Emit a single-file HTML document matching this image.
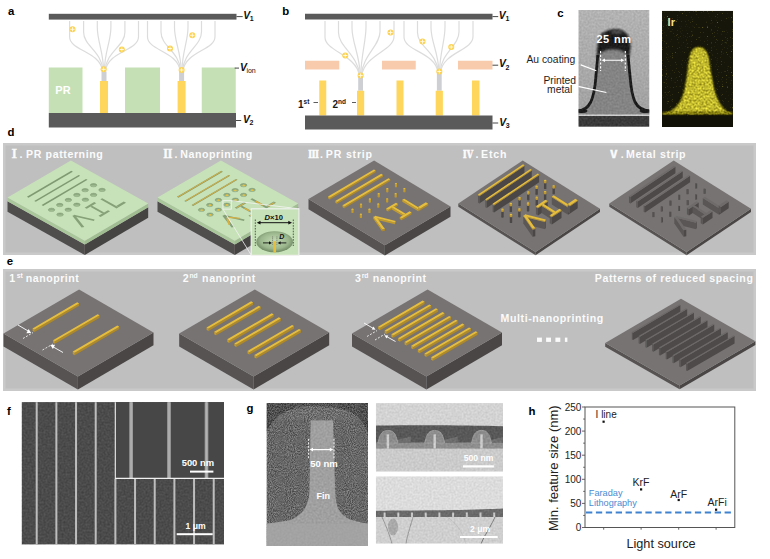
<!DOCTYPE html>
<html><head><meta charset="utf-8"><style>
html,body{margin:0;padding:0;background:#fff;}
svg{display:block;font-family:'Liberation Sans', sans-serif;}
</style></head><body>
<svg width="770" height="559" viewBox="0 0 770 559">
<defs>
<filter id="grain" x="0" y="0" width="100%" height="100%" color-interpolation-filters="sRGB">
  <feTurbulence type="fractalNoise" baseFrequency="0.9" numOctaves="1" seed="4" result="t"/>
  <feColorMatrix in="t" type="matrix" values="1 0 0 0 0  1 0 0 0 0  1 0 0 0 0  0 0 0 0 1" result="g"/>
  <feComposite in="SourceGraphic" in2="g" operator="arithmetic" k1="0" k2="1" k3="0.45" k4="-0.225"/>
</filter>
<filter id="grain2" x="0" y="0" width="100%" height="100%" color-interpolation-filters="sRGB">
  <feTurbulence type="fractalNoise" baseFrequency="0.95" numOctaves="2" seed="9" result="t"/>
  <feColorMatrix in="t" type="matrix" values="1 0 0 0 0  1 0 0 0 0  1 0 0 0 0  0 0 0 0 1" result="g"/>
  <feComposite in="SourceGraphic" in2="g" operator="arithmetic" k1="0" k2="1" k3="0.5" k4="-0.25"/>
</filter>
<filter id="grain3" x="0" y="0" width="100%" height="100%" color-interpolation-filters="sRGB">
  <feTurbulence type="fractalNoise" baseFrequency="0.45" numOctaves="2" seed="11" result="t"/>
  <feColorMatrix in="t" type="matrix" values="1 0 0 0 0  1 0 0 0 0  0 0 0 0 0  0 0 0 0 1" result="g"/>
  <feComposite in="SourceGraphic" in2="g" operator="arithmetic" k1="0" k2="1" k3="0.7" k4="-0.35"/>
</filter>
<filter id="grainL" x="0" y="0" width="100%" height="100%" color-interpolation-filters="sRGB">
  <feTurbulence type="fractalNoise" baseFrequency="0.5" numOctaves="2" seed="8" result="t"/>
  <feColorMatrix in="t" type="matrix" values="1 0 0 0 0  1 0 0 0 0  1 0 0 0 0  0 0 0 0 1" result="g"/>
  <feComposite in="SourceGraphic" in2="g" operator="arithmetic" k1="0" k2="1" k3="0.14" k4="-0.07"/>
</filter>
<filter id="grain4" x="0" y="0" width="100%" height="100%" color-interpolation-filters="sRGB">
  <feTurbulence type="fractalNoise" baseFrequency="0.7" numOctaves="1" seed="5" result="t"/>
  <feColorMatrix in="t" type="matrix" values="1 0 0 0 0  1 0 0 0 0  0 0 0 0 0  0 0 0 0 1" result="g"/>
  <feComposite in="SourceGraphic" in2="g" operator="arithmetic" k1="0" k2="1" k3="0.12" k4="-0.06"/>
</filter>
<filter id="bellF" x="-10%" y="-10%" width="120%" height="120%" color-interpolation-filters="sRGB">
  <feGaussianBlur in="SourceGraphic" stdDeviation="1.1" result="b"/>
  <feTurbulence type="fractalNoise" baseFrequency="0.5" numOctaves="2" seed="11" result="t"/>
  <feColorMatrix in="t" type="matrix" values="1 0 0 0 0  1 0 0 0 0  0.5 0 0 0 0  0 0 0 0 1" result="g"/>
  <feComposite in="b" in2="g" operator="arithmetic" k1="0" k2="1" k3="0.65" k4="-0.325" result="c"/>
  <feComposite in="c" in2="b" operator="in"/>
</filter>
<filter id="speck" x="0" y="0" width="100%" height="100%" color-interpolation-filters="sRGB">
  <feTurbulence type="fractalNoise" baseFrequency="0.8" numOctaves="1" seed="21" result="t"/>
  <feColorMatrix in="t" type="matrix" values="0 0 0 0 0.42  0 0 0 0 0.40  0 0 0 0 0.15  5 0 0 0 -3.2" result="sp"/>
  <feComposite in="sp" in2="SourceGraphic" operator="atop"/>
</filter>
<filter id="soft" x="-20%" y="-20%" width="140%" height="140%"><feGaussianBlur stdDeviation="0.6"/></filter>
<filter id="soft2" x="-20%" y="-20%" width="140%" height="140%"><feGaussianBlur stdDeviation="1.2"/></filter>
<linearGradient id="temBg" x1="0" y1="0" x2="0" y2="1"><stop offset="0" stop-color="#b3b3b3"/><stop offset="1" stop-color="#9f9f9f"/></linearGradient>
</defs>
<rect x="48.80" y="13.80" width="187.70" height="5.80" fill="#5a5a5a" />
<path d="M69.6,21 L69.6,36.8 C69.6,50.8 99.9,51.0 102.6,71" fill="none" stroke="#dcdcdc" stroke-width="1.2"/>
<path d="M83.6,21 L83.6,32.0 C83.6,46.0 101.6,51.0 103.2,71" fill="none" stroke="#dcdcdc" stroke-width="1.2"/>
<path d="M97.3,21 L97.3,27.3 C97.3,41.3 103.2,51.0 103.7,71" fill="none" stroke="#dcdcdc" stroke-width="1.2"/>
<path d="M110.9,21 L110.9,27.4 C110.9,41.4 104.8,51.0 104.3,71" fill="none" stroke="#dcdcdc" stroke-width="1.2"/>
<path d="M124.9,21 L124.9,32.2 C124.9,46.2 106.5,51.0 104.8,71" fill="none" stroke="#dcdcdc" stroke-width="1.2"/>
<path d="M138.5,21 L138.5,36.8 C138.5,50.8 108.1,51.0 105.4,71" fill="none" stroke="#dcdcdc" stroke-width="1.2"/>
<path d="M147.5,21 L147.5,36.7 C147.5,50.7 177.5,51.0 180.2,71" fill="none" stroke="#dcdcdc" stroke-width="1.2"/>
<path d="M161,21 L161,32.1 C161,46.1 179.1,51.0 180.8,71" fill="none" stroke="#dcdcdc" stroke-width="1.2"/>
<path d="M174.5,21 L174.5,27.4 C174.5,41.4 180.7,51.0 181.3,71" fill="none" stroke="#dcdcdc" stroke-width="1.2"/>
<path d="M188,21 L188,27.2 C188,41.2 182.4,51.0 181.9,71" fill="none" stroke="#dcdcdc" stroke-width="1.2"/>
<path d="M201.5,21 L201.5,31.8 C201.5,45.8 184.0,51.0 182.4,71" fill="none" stroke="#dcdcdc" stroke-width="1.2"/>
<path d="M215,21 L215,36.5 C215,50.5 185.6,51.0 182.9,71" fill="none" stroke="#dcdcdc" stroke-width="1.2"/>
<rect x="48.80" y="67.50" width="33.70" height="45.50" fill="#c6e0b5" />
<rect x="125.00" y="67.50" width="35.00" height="45.50" fill="#c6e0b5" />
<rect x="201.75" y="67.50" width="34.00" height="45.50" fill="#c6e0b5" />
<text x="55.3" y="94.0" font-size="11" font-weight="bold" fill="#fff" text-anchor="start"  >PR</text>
<rect x="101.50" y="71.50" width="5.00" height="10.10" fill="#cdcfd3" />
<rect x="100.00" y="81.00" width="8.00" height="32.00" fill="#ffd65c" />
<rect x="179.10" y="71.50" width="5.00" height="10.10" fill="#cdcfd3" />
<rect x="177.60" y="81.00" width="8.00" height="32.00" fill="#ffd65c" />
<rect x="48.80" y="113.00" width="187.20" height="14.50" fill="#5a5a5a" />
<g><circle cx="72.5" cy="29.3" r="3" fill="#fdd252"/><path d="M70.4,29.3H74.6M72.5,27.2V31.400000000000002" stroke="#fffbe8" stroke-width="0.9"/></g>
<g><circle cx="121.8" cy="49.5" r="3" fill="#fdd252"/><path d="M119.7,49.5H123.89999999999999M121.8,47.4V51.6" stroke="#fffbe8" stroke-width="0.9"/></g>
<g><circle cx="103.6" cy="69.3" r="3" fill="#fdd252"/><path d="M101.5,69.3H105.69999999999999M103.6,67.2V71.39999999999999" stroke="#fffbe8" stroke-width="0.9"/></g>
<g><circle cx="170" cy="48.5" r="3" fill="#fdd252"/><path d="M167.9,48.5H172.1M170,46.4V50.6" stroke="#fffbe8" stroke-width="0.9"/></g>
<g><circle cx="192.3" cy="35.3" r="3" fill="#fdd252"/><path d="M190.20000000000002,35.3H194.4M192.3,33.199999999999996V37.4" stroke="#fffbe8" stroke-width="0.9"/></g>
<g><circle cx="181.6" cy="70" r="3" fill="#fdd252"/><path d="M179.5,70H183.7M181.6,67.9V72.1" stroke="#fffbe8" stroke-width="0.9"/></g>
<line x1="236.5" y1="16.6" x2="242.7" y2="16.6" stroke="#333" stroke-width="0.9"/>
<line x1="234.7" y1="68.1" x2="239.0" y2="68.1" stroke="#333" stroke-width="0.9"/>
<line x1="236.0" y1="120.5" x2="241.2" y2="120.5" stroke="#333" stroke-width="0.9"/>
<text x="243.27" y="18.9" font-size="10.4" font-style="italic" font-weight="bold" fill="#111">V<tspan font-size="7.0" font-style="normal" font-weight="bold" dx="-0.4" dy="2.2">1</tspan></text>
<text x="240.07" y="71.0" font-size="10.4" font-style="italic" font-weight="bold" fill="#111">V<tspan font-size="7.0" font-style="normal" font-weight="normal" dx="-0.6" dy="2.2">ion</tspan></text>
<text x="242.97" y="123.2" font-size="10.4" font-style="italic" font-weight="bold" fill="#111">V<tspan font-size="7.0" font-style="normal" font-weight="bold" dx="-0.4" dy="2.2">2</tspan></text>
<rect x="305.00" y="13.75" width="187.50" height="5.75" fill="#5a5a5a" />
<path d="M325,21 L325,37.2 C325,51.2 356.3,55.0 359.2,75" fill="none" stroke="#dcdcdc" stroke-width="1.2"/>
<path d="M338.5,21 L338.5,32.6 C338.5,46.6 357.9,55.0 359.7,75" fill="none" stroke="#dcdcdc" stroke-width="1.2"/>
<path d="M352,21 L352,27.9 C352,41.9 359.6,55.0 360.3,75" fill="none" stroke="#dcdcdc" stroke-width="1.2"/>
<path d="M366,21 L366,26.9 C366,40.9 361.2,55.0 360.8,75" fill="none" stroke="#dcdcdc" stroke-width="1.2"/>
<path d="M380,21 L380,31.7 C380,45.7 362.9,55.0 361.4,75" fill="none" stroke="#dcdcdc" stroke-width="1.2"/>
<path d="M394,21 L394,36.5 C394,50.5 364.6,55.0 361.9,75" fill="none" stroke="#dcdcdc" stroke-width="1.2"/>
<path d="M404,21 L404,37.1 C404,51.1 435.1,52.0 437.9,72" fill="none" stroke="#dcdcdc" stroke-width="1.2"/>
<path d="M417.5,21 L417.5,32.5 C417.5,46.5 436.7,52.0 438.4,72" fill="none" stroke="#dcdcdc" stroke-width="1.2"/>
<path d="M431,21 L431,27.8 C431,41.8 438.3,52.0 439.0,72" fill="none" stroke="#dcdcdc" stroke-width="1.2"/>
<path d="M445,21 L445,27.0 C445,41.0 440.0,52.0 439.5,72" fill="none" stroke="#dcdcdc" stroke-width="1.2"/>
<path d="M459,21 L459,31.8 C459,45.8 441.7,52.0 440.1,72" fill="none" stroke="#dcdcdc" stroke-width="1.2"/>
<path d="M473,21 L473,36.6 C473,50.6 443.3,52.0 440.6,72" fill="none" stroke="#dcdcdc" stroke-width="1.2"/>
<rect x="305.00" y="60.75" width="34.25" height="8.75" fill="#f8cbad" />
<rect x="382.00" y="60.75" width="33.75" height="8.75" fill="#f8cbad" />
<rect x="458.00" y="60.75" width="34.50" height="8.75" fill="#f8cbad" />
<rect x="319.25" y="80.50" width="7.00" height="35.00" fill="#ffd65c" />
<rect x="396.50" y="80.50" width="7.00" height="35.00" fill="#ffd65c" />
<rect x="472.00" y="80.50" width="7.50" height="35.00" fill="#ffd65c" />
<rect x="358.20" y="75.00" width="4.80" height="15.75" fill="#cdcfd3" />
<rect x="357.00" y="90.75" width="7.20" height="24.75" fill="#ffd65c" />
<rect x="436.90" y="72.00" width="4.80" height="18.75" fill="#cdcfd3" />
<rect x="435.70" y="90.75" width="7.20" height="24.75" fill="#ffd65c" />
<rect x="305.00" y="115.50" width="187.50" height="14.00" fill="#5a5a5a" />
<g><circle cx="345.25" cy="55.5" r="3" fill="#fdd252"/><path d="M343.15,55.5H347.35M345.25,53.4V57.6" stroke="#fffbe8" stroke-width="0.9"/></g>
<g><circle cx="360.6" cy="75.5" r="3" fill="#fdd252"/><path d="M358.5,75.5H362.70000000000005M360.6,73.4V77.6" stroke="#fffbe8" stroke-width="0.9"/></g>
<g><circle cx="390.5" cy="32.5" r="3" fill="#fdd252"/><path d="M388.4,32.5H392.6M390.5,30.4V34.6" stroke="#fffbe8" stroke-width="0.9"/></g>
<g><circle cx="422.5" cy="41.6" r="3" fill="#fdd252"/><path d="M420.4,41.6H424.6M422.5,39.5V43.7" stroke="#fffbe8" stroke-width="0.9"/></g>
<g><circle cx="451.25" cy="47" r="3" fill="#fdd252"/><path d="M449.15,47H453.35M451.25,44.9V49.1" stroke="#fffbe8" stroke-width="0.9"/></g>
<g><circle cx="439.3" cy="71.5" r="3" fill="#fdd252"/><path d="M437.2,71.5H441.40000000000003M439.3,69.4V73.6" stroke="#fffbe8" stroke-width="0.9"/></g>
<line x1="492.5" y1="16.6" x2="498.2" y2="16.6" stroke="#333" stroke-width="0.9"/>
<line x1="492.5" y1="65.2" x2="498.2" y2="65.2" stroke="#333" stroke-width="0.9"/>
<line x1="492.5" y1="123.0" x2="498.2" y2="123.0" stroke="#333" stroke-width="0.9"/>
<text x="498.87" y="19.0" font-size="10.4" font-style="italic" font-weight="bold" fill="#111">V<tspan font-size="7.0" font-style="normal" font-weight="bold" dx="-0.4" dy="2.2">1</tspan></text>
<text x="498.97" y="67.3" font-size="10.4" font-style="italic" font-weight="bold" fill="#111">V<tspan font-size="7.0" font-style="normal" font-weight="bold" dx="-0.4" dy="2.2">2</tspan></text>
<text x="499.17" y="125.6" font-size="10.4" font-style="italic" font-weight="bold" fill="#111">V<tspan font-size="7.0" font-style="normal" font-weight="bold" dx="-0.4" dy="2.2">3</tspan></text>
<text x="298" y="107.5" font-size="10" font-weight="bold" fill="#1a1a1a">1<tspan font-size="6.5" dy="-3.5">st</tspan></text>
<line x1="313.5" y1="102.5" x2="318" y2="102.5" stroke="#333" stroke-width="0.8"/>
<text x="332.5" y="107.5" font-size="10" font-weight="bold" fill="#1a1a1a">2<tspan font-size="6.5" dy="-3.5">nd</tspan></text>
<line x1="352" y1="102.5" x2="356" y2="102.5" stroke="#333" stroke-width="0.8"/>
<text x="526.4" y="63.4" font-size="10.3" font-weight="normal" fill="#1e1e1e" text-anchor="start"  letter-spacing="0.03">Au coating</text>
<text x="559.7" y="83.5" font-size="10.3" font-weight="normal" fill="#1e1e1e" text-anchor="middle"  >Printed</text>
<text x="559.7" y="92.5" font-size="10.3" font-weight="normal" fill="#1e1e1e" text-anchor="middle"  >metal</text>
<defs><linearGradient id="holeG" x1="0" y1="0" x2="0" y2="1"><stop offset="0" stop-color="#7f9a73"/><stop offset="0.55" stop-color="#98b48a"/><stop offset="1" stop-color="#aecb9f"/></linearGradient></defs>
<rect x="3" y="143" width="753" height="112" fill="#c9c9c9"/>
<rect x="5.5" y="145.5" width="748" height="107" fill="#bfbfbf"/>
<polygon points="7.50,201.20 84.80,244.40 84.80,255.00 7.50,211.80" fill="#504d4d"/>
<polygon points="84.80,244.40 148.20,207.20 148.20,217.80 84.80,255.00" fill="#464343"/>
<polygon points="7.50,197.60 84.80,240.80 84.80,244.40 7.50,201.20" fill="#a9c79a"/>
<polygon points="84.80,240.80 148.20,203.60 148.20,207.20 84.80,244.40" fill="#9fbd90"/>
<polygon points="7.50,197.60 70.90,160.40 148.20,203.60 84.80,240.80" fill="#c7e2b8"/>
<g transform="matrix(0.63400 -0.37200 0.77300 0.43200 7.500 197.600)">
<rect x="16.00" y="12.00" width="70.00" height="2.00" fill="#7f9a72"/>
<rect x="16.00" y="21.50" width="70.00" height="2.00" fill="#7f9a72"/>
<rect x="16.00" y="31.00" width="70.00" height="2.00" fill="#7f9a72"/>
</g>
<ellipse cx="51.52" cy="209.85" rx="3.3" ry="1.7" fill="url(#holeG)" stroke="#7e9a72" stroke-width="0.5"/>
<ellipse cx="59.76" cy="205.02" rx="3.3" ry="1.7" fill="url(#holeG)" stroke="#7e9a72" stroke-width="0.5"/>
<ellipse cx="68.32" cy="199.99" rx="3.3" ry="1.7" fill="url(#holeG)" stroke="#7e9a72" stroke-width="0.5"/>
<ellipse cx="76.88" cy="194.97" rx="3.3" ry="1.7" fill="url(#holeG)" stroke="#7e9a72" stroke-width="0.5"/>
<ellipse cx="85.12" cy="190.14" rx="3.3" ry="1.7" fill="url(#holeG)" stroke="#7e9a72" stroke-width="0.5"/>
<ellipse cx="93.55" cy="185.19" rx="3.3" ry="1.7" fill="url(#holeG)" stroke="#7e9a72" stroke-width="0.5"/>
<ellipse cx="60.02" cy="214.60" rx="3.3" ry="1.7" fill="url(#holeG)" stroke="#7e9a72" stroke-width="0.5"/>
<ellipse cx="68.26" cy="209.77" rx="3.3" ry="1.7" fill="url(#holeG)" stroke="#7e9a72" stroke-width="0.5"/>
<ellipse cx="76.82" cy="204.75" rx="3.3" ry="1.7" fill="url(#holeG)" stroke="#7e9a72" stroke-width="0.5"/>
<ellipse cx="85.38" cy="199.72" rx="3.3" ry="1.7" fill="url(#holeG)" stroke="#7e9a72" stroke-width="0.5"/>
<ellipse cx="93.62" cy="194.89" rx="3.3" ry="1.7" fill="url(#holeG)" stroke="#7e9a72" stroke-width="0.5"/>
<ellipse cx="102.05" cy="189.94" rx="3.3" ry="1.7" fill="url(#holeG)" stroke="#7e9a72" stroke-width="0.5"/>
<g transform="matrix(0.63400 -0.37200 0.77300 0.43200 7.500 197.600)">
<polygon points="69.00,63.50 72.00,63.50 72.00,84.50 69.00,84.50" fill="#86a078"/>
<polygon points="72.00,81.50 84.00,81.50 84.00,84.50 72.00,84.50" fill="#86a078"/>
<polygon points="45.50,62.50 60.50,62.50 60.50,65.20 45.50,65.20" fill="#86a078"/>
<polygon points="51.00,65.20 54.00,65.20 54.00,80.80 51.00,80.80" fill="#86a078"/>
<polygon points="45.00,80.80 60.00,80.80 60.00,83.50 45.00,83.50" fill="#86a078"/>
<polygon points="24.94,63.37 15.84,82.87 18.56,84.13 27.66,64.63" fill="#86a078"/>
<polygon points="24.96,64.67 34.36,83.67 37.04,82.33 27.64,63.33" fill="#86a078"/>
</g>
<polygon points="157.50,201.20 234.80,244.40 234.80,255.00 157.50,211.80" fill="#504d4d"/>
<polygon points="234.80,244.40 298.20,207.20 298.20,217.80 234.80,255.00" fill="#464343"/>
<polygon points="157.50,197.60 234.80,240.80 234.80,244.40 157.50,201.20" fill="#a9c79a"/>
<polygon points="234.80,240.80 298.20,203.60 298.20,207.20 234.80,244.40" fill="#9fbd90"/>
<polygon points="157.50,197.60 220.90,160.40 298.20,203.60 234.80,240.80" fill="#c7e2b8"/>
<g transform="matrix(0.63400 -0.37200 0.77300 0.43200 157.500 197.600)">
<rect x="16.00" y="12.00" width="70.00" height="2.00" fill="#7f9a72"/>
<rect x="16.50" y="12.20" width="69.00" height="1.20" fill="#d9b040"/>
<rect x="16.00" y="21.50" width="70.00" height="2.00" fill="#7f9a72"/>
<rect x="16.50" y="21.70" width="69.00" height="1.20" fill="#d9b040"/>
<rect x="16.00" y="31.00" width="70.00" height="2.00" fill="#7f9a72"/>
<rect x="16.50" y="31.20" width="69.00" height="1.20" fill="#d9b040"/>
</g>
<ellipse cx="201.52" cy="209.85" rx="3.3" ry="1.7" fill="url(#holeG)" stroke="#7e9a72" stroke-width="0.5"/>
<ellipse cx="201.72" cy="210.05" rx="1.3" ry="0.9" fill="#e8c040"/>
<ellipse cx="209.76" cy="205.02" rx="3.3" ry="1.7" fill="url(#holeG)" stroke="#7e9a72" stroke-width="0.5"/>
<ellipse cx="209.96" cy="205.22" rx="1.3" ry="0.9" fill="#e8c040"/>
<ellipse cx="218.32" cy="199.99" rx="3.3" ry="1.7" fill="url(#holeG)" stroke="#7e9a72" stroke-width="0.5"/>
<ellipse cx="218.52" cy="200.19" rx="1.3" ry="0.9" fill="#e8c040"/>
<ellipse cx="226.88" cy="194.97" rx="3.3" ry="1.7" fill="url(#holeG)" stroke="#7e9a72" stroke-width="0.5"/>
<ellipse cx="227.08" cy="195.17" rx="1.3" ry="0.9" fill="#e8c040"/>
<ellipse cx="235.12" cy="190.14" rx="3.3" ry="1.7" fill="url(#holeG)" stroke="#7e9a72" stroke-width="0.5"/>
<ellipse cx="235.32" cy="190.34" rx="1.3" ry="0.9" fill="#e8c040"/>
<ellipse cx="243.55" cy="185.19" rx="3.3" ry="1.7" fill="url(#holeG)" stroke="#7e9a72" stroke-width="0.5"/>
<ellipse cx="243.75" cy="185.39" rx="1.3" ry="0.9" fill="#e8c040"/>
<ellipse cx="210.02" cy="214.60" rx="3.3" ry="1.7" fill="url(#holeG)" stroke="#7e9a72" stroke-width="0.5"/>
<ellipse cx="210.22" cy="214.80" rx="1.3" ry="0.9" fill="#e8c040"/>
<ellipse cx="218.26" cy="209.77" rx="3.3" ry="1.7" fill="url(#holeG)" stroke="#7e9a72" stroke-width="0.5"/>
<ellipse cx="218.46" cy="209.97" rx="1.3" ry="0.9" fill="#e8c040"/>
<ellipse cx="226.82" cy="204.75" rx="3.3" ry="1.7" fill="url(#holeG)" stroke="#7e9a72" stroke-width="0.5"/>
<ellipse cx="227.02" cy="204.95" rx="1.3" ry="0.9" fill="#e8c040"/>
<ellipse cx="235.38" cy="199.72" rx="3.3" ry="1.7" fill="url(#holeG)" stroke="#7e9a72" stroke-width="0.5"/>
<ellipse cx="235.58" cy="199.92" rx="1.3" ry="0.9" fill="#e8c040"/>
<ellipse cx="243.62" cy="194.89" rx="3.3" ry="1.7" fill="url(#holeG)" stroke="#7e9a72" stroke-width="0.5"/>
<ellipse cx="243.82" cy="195.09" rx="1.3" ry="0.9" fill="#e8c040"/>
<ellipse cx="252.05" cy="189.94" rx="3.3" ry="1.7" fill="url(#holeG)" stroke="#7e9a72" stroke-width="0.5"/>
<ellipse cx="252.25" cy="190.14" rx="1.3" ry="0.9" fill="#e8c040"/>
<g transform="matrix(0.63400 -0.37200 0.77300 0.43200 157.500 197.600)">
<polygon points="69.00,63.50 72.00,63.50 72.00,84.50 69.00,84.50" fill="#86a078"/>
<polygon points="69.30,69.27 71.70,69.27 71.70,78.72 69.30,78.72" fill="#d9b040"/>
<polygon points="72.00,81.50 84.00,81.50 84.00,84.50 72.00,84.50" fill="#86a078"/>
<polygon points="73.20,82.32 82.80,82.32 82.80,83.67 73.20,83.67" fill="#d9b040"/>
<polygon points="45.50,62.50 60.50,62.50 60.50,65.20 45.50,65.20" fill="#86a078"/>
<polygon points="47.00,63.24 59.00,63.24 59.00,64.46 47.00,64.46" fill="#d9b040"/>
<polygon points="51.00,65.20 54.00,65.20 54.00,80.80 51.00,80.80" fill="#86a078"/>
<polygon points="51.30,69.49 53.70,69.49 53.70,76.51 51.30,76.51" fill="#d9b040"/>
<polygon points="45.00,80.80 60.00,80.80 60.00,83.50 45.00,83.50" fill="#86a078"/>
<polygon points="46.50,81.54 58.50,81.54 58.50,82.76 46.50,82.76" fill="#d9b040"/>
<polygon points="24.94,63.37 15.84,82.87 18.56,84.13 27.66,64.63" fill="#86a078"/>
<polygon points="24.30,69.08 17.02,77.85 19.20,78.42 26.48,69.65" fill="#d9b040"/>
<polygon points="24.96,64.67 34.36,83.67 37.04,82.33 27.64,63.33" fill="#86a078"/>
<polygon points="26.16,69.52 33.68,78.07 35.84,77.48 28.32,68.93" fill="#d9b040"/>
</g>
<polygon points="308.50,199.10 384.90,245.20 384.90,255.40 308.50,209.30" fill="#575353"/>
<polygon points="384.90,245.20 450.50,206.50 450.50,216.70 384.90,255.40" fill="#4a4646"/>
<polygon points="308.50,199.10 374.10,160.40 450.50,206.50 384.90,245.20" fill="#777373"/>
<ellipse cx="396.00" cy="186.69" rx="1.10" ry="0.60" fill="#c29b2c"/>
<rect x="394.90" y="183.49" width="2.20" height="3.20" fill="#c29b2c"/>
<ellipse cx="396.00" cy="183.49" rx="1.10" ry="0.60" fill="#e6be3c"/>
<ellipse cx="404.40" cy="191.76" rx="1.10" ry="0.60" fill="#c29b2c"/>
<rect x="403.30" y="188.56" width="2.20" height="3.20" fill="#c29b2c"/>
<ellipse cx="404.40" cy="188.56" rx="1.10" ry="0.60" fill="#e6be3c"/>
<ellipse cx="387.27" cy="191.83" rx="1.10" ry="0.60" fill="#c29b2c"/>
<rect x="386.17" y="188.63" width="2.20" height="3.20" fill="#c29b2c"/>
<ellipse cx="387.27" cy="188.63" rx="1.10" ry="0.60" fill="#e6be3c"/>
<ellipse cx="395.68" cy="196.90" rx="1.10" ry="0.60" fill="#c29b2c"/>
<rect x="394.58" y="193.70" width="2.20" height="3.20" fill="#c29b2c"/>
<ellipse cx="395.68" cy="193.70" rx="1.10" ry="0.60" fill="#e6be3c"/>
<ellipse cx="378.74" cy="196.86" rx="1.10" ry="0.60" fill="#c29b2c"/>
<rect x="377.64" y="193.66" width="2.20" height="3.20" fill="#c29b2c"/>
<ellipse cx="378.74" cy="193.66" rx="1.10" ry="0.60" fill="#e6be3c"/>
<polygon points="375.76,172.36 329.84,199.45 329.84,197.65 375.76,170.56" fill="#b08a26"/>
<polygon points="329.84,199.45 328.01,198.35 328.01,196.55 329.84,197.65" fill="#c29b2c"/>
<polygon points="328.01,196.55 373.93,169.46 375.76,170.56 329.84,197.65" fill="#e6be3c"/>
<ellipse cx="387.15" cy="201.94" rx="1.10" ry="0.60" fill="#c29b2c"/>
<rect x="386.05" y="198.74" width="2.20" height="3.20" fill="#c29b2c"/>
<ellipse cx="387.15" cy="198.74" rx="1.10" ry="0.60" fill="#e6be3c"/>
<ellipse cx="369.89" cy="202.09" rx="1.10" ry="0.60" fill="#c29b2c"/>
<rect x="368.79" y="198.89" width="2.20" height="3.20" fill="#c29b2c"/>
<ellipse cx="369.89" cy="198.89" rx="1.10" ry="0.60" fill="#e6be3c"/>
<polygon points="420.29,210.19 418.32,211.35 418.32,209.55 420.29,208.39" fill="#b08a26"/>
<polygon points="418.32,211.35 402.28,201.67 402.28,199.87 418.32,209.55" fill="#c29b2c"/>
<polygon points="402.28,199.87 404.25,198.71 420.29,208.39 418.32,209.55" fill="#e6be3c"/>
<polygon points="428.16,205.55 420.29,210.19 420.29,208.39 428.16,203.75" fill="#b08a26"/>
<polygon points="420.29,210.19 418.00,208.81 418.00,207.01 420.29,208.39" fill="#c29b2c"/>
<polygon points="418.00,207.01 425.87,202.36 428.16,203.75 420.29,208.39" fill="#e6be3c"/>
<polygon points="383.02,176.74 337.10,203.83 337.10,202.03 383.02,174.94" fill="#b08a26"/>
<polygon points="337.10,203.83 335.27,202.73 335.27,200.93 337.10,202.03" fill="#c29b2c"/>
<polygon points="335.27,200.93 381.19,173.84 383.02,174.94 337.10,202.03" fill="#e6be3c"/>
<ellipse cx="378.29" cy="207.16" rx="1.10" ry="0.60" fill="#c29b2c"/>
<rect x="377.19" y="203.96" width="2.20" height="3.20" fill="#c29b2c"/>
<ellipse cx="378.29" cy="203.96" rx="1.10" ry="0.60" fill="#e6be3c"/>
<polygon points="398.00,205.74 388.16,211.55 388.16,209.75 398.00,203.94" fill="#b08a26"/>
<polygon points="388.16,211.55 386.10,210.30 386.10,208.50 388.16,209.75" fill="#c29b2c"/>
<polygon points="386.10,208.50 395.94,202.70 398.00,203.94 388.16,209.75" fill="#e6be3c"/>
<ellipse cx="361.03" cy="207.31" rx="1.10" ry="0.60" fill="#c29b2c"/>
<rect x="359.93" y="204.11" width="2.20" height="3.20" fill="#c29b2c"/>
<ellipse cx="361.03" cy="204.11" rx="1.10" ry="0.60" fill="#e6be3c"/>
<polygon points="390.28,181.12 344.36,208.21 344.36,206.41 390.28,179.32" fill="#b08a26"/>
<polygon points="344.36,208.21 342.53,207.11 342.53,205.31 344.36,206.41" fill="#c29b2c"/>
<polygon points="342.53,205.31 388.45,178.22 390.28,179.32 344.36,206.41" fill="#e6be3c"/>
<polygon points="405.66,215.45 403.69,216.61 403.69,214.81 405.66,213.65" fill="#b08a26"/>
<polygon points="403.69,216.61 391.77,209.42 391.77,207.62 403.69,214.81" fill="#c29b2c"/>
<polygon points="391.77,207.62 393.74,206.46 405.66,213.65 403.69,214.81" fill="#e6be3c"/>
<ellipse cx="369.44" cy="212.38" rx="1.10" ry="0.60" fill="#c29b2c"/>
<rect x="368.34" y="209.18" width="2.20" height="3.20" fill="#c29b2c"/>
<ellipse cx="369.44" cy="209.18" rx="1.10" ry="0.60" fill="#e6be3c"/>
<ellipse cx="352.50" cy="212.34" rx="1.10" ry="0.60" fill="#c29b2c"/>
<rect x="351.40" y="209.14" width="2.20" height="3.20" fill="#c29b2c"/>
<ellipse cx="352.50" cy="209.14" rx="1.10" ry="0.60" fill="#e6be3c"/>
<polygon points="411.65,214.37 401.81,220.18 401.81,218.38 411.65,212.57" fill="#b08a26"/>
<polygon points="401.81,220.18 399.75,218.93 399.75,217.13 401.81,218.38" fill="#c29b2c"/>
<polygon points="399.75,217.13 409.59,211.33 411.65,212.57 401.81,218.38" fill="#e6be3c"/>
<ellipse cx="360.91" cy="217.41" rx="1.10" ry="0.60" fill="#c29b2c"/>
<rect x="359.81" y="214.22" width="2.20" height="3.20" fill="#c29b2c"/>
<ellipse cx="360.91" cy="214.22" rx="1.10" ry="0.60" fill="#e6be3c"/>
<polygon points="374.28,219.25 394.96,224.37 394.96,222.57 374.28,217.45" fill="#c29b2c"/>
<polygon points="394.96,224.37 395.70,222.72 395.70,220.92 394.96,222.57" fill="#b08a26"/>
<polygon points="374.28,217.45 394.96,222.57 395.70,220.92 375.02,215.80" fill="#e6be3c"/>
<polygon points="373.27,218.66 382.20,231.17 382.20,229.37 373.27,216.86" fill="#c29b2c"/>
<polygon points="382.20,231.17 384.95,230.70 384.95,228.90 382.20,229.37" fill="#b08a26"/>
<polygon points="373.27,216.86 382.20,229.37 384.95,228.90 376.03,216.39" fill="#e6be3c"/>
<polygon points="458.30,203.60 535.60,252.00 535.60,255.20 458.30,206.80" fill="#575353"/>
<polygon points="535.60,252.00 600.00,208.80 600.00,212.00 535.60,255.20" fill="#4a4646"/>
<polygon points="458.30,203.60 522.70,160.40 600.00,208.80 535.60,252.00" fill="#777373"/>
<ellipse cx="545.18" cy="188.43" rx="1.20" ry="0.60" fill="#4b4747"/>
<rect x="543.98" y="182.63" width="2.40" height="5.80" fill="#4b4747"/>
<ellipse cx="545.18" cy="182.63" rx="1.20" ry="0.60" fill="#6a6666"/>
<ellipse cx="545.18" cy="182.63" rx="1.20" ry="0.60" fill="#c29b2c"/>
<rect x="543.98" y="180.43" width="2.40" height="2.20" fill="#c29b2c"/>
<ellipse cx="545.18" cy="180.43" rx="1.20" ry="0.60" fill="#e6be3c"/>
<ellipse cx="553.69" cy="193.75" rx="1.20" ry="0.60" fill="#4b4747"/>
<rect x="552.49" y="187.95" width="2.40" height="5.80" fill="#4b4747"/>
<ellipse cx="553.69" cy="187.95" rx="1.20" ry="0.60" fill="#6a6666"/>
<ellipse cx="553.69" cy="187.95" rx="1.20" ry="0.60" fill="#c29b2c"/>
<rect x="552.49" y="185.75" width="2.40" height="2.20" fill="#c29b2c"/>
<ellipse cx="553.69" cy="185.75" rx="1.20" ry="0.60" fill="#e6be3c"/>
<ellipse cx="536.62" cy="194.17" rx="1.20" ry="0.60" fill="#4b4747"/>
<rect x="535.42" y="188.37" width="2.40" height="5.80" fill="#4b4747"/>
<ellipse cx="536.62" cy="188.37" rx="1.20" ry="0.60" fill="#6a6666"/>
<ellipse cx="536.62" cy="188.37" rx="1.20" ry="0.60" fill="#c29b2c"/>
<rect x="535.42" y="186.17" width="2.40" height="2.20" fill="#c29b2c"/>
<ellipse cx="536.62" cy="186.17" rx="1.20" ry="0.60" fill="#e6be3c"/>
<ellipse cx="545.12" cy="199.50" rx="1.20" ry="0.60" fill="#4b4747"/>
<rect x="543.92" y="193.70" width="2.40" height="5.80" fill="#4b4747"/>
<ellipse cx="545.12" cy="193.70" rx="1.20" ry="0.60" fill="#6a6666"/>
<ellipse cx="545.12" cy="193.70" rx="1.20" ry="0.60" fill="#c29b2c"/>
<rect x="543.92" y="191.50" width="2.40" height="2.20" fill="#c29b2c"/>
<ellipse cx="545.12" cy="191.50" rx="1.20" ry="0.60" fill="#e6be3c"/>
<ellipse cx="528.25" cy="199.79" rx="1.20" ry="0.60" fill="#4b4747"/>
<rect x="527.05" y="193.99" width="2.40" height="5.80" fill="#4b4747"/>
<ellipse cx="528.25" cy="193.99" rx="1.20" ry="0.60" fill="#6a6666"/>
<ellipse cx="528.25" cy="193.99" rx="1.20" ry="0.60" fill="#c29b2c"/>
<rect x="527.05" y="191.79" width="2.40" height="2.20" fill="#c29b2c"/>
<ellipse cx="528.25" cy="191.79" rx="1.20" ry="0.60" fill="#e6be3c"/>
<polygon points="524.43,173.18 479.35,203.42 479.35,196.22 524.43,165.98" fill="#4b4747"/>
<polygon points="479.35,203.42 477.96,202.54 477.96,195.34 479.35,196.22" fill="#5b5757"/>
<polygon points="477.96,195.34 523.04,165.10 524.43,165.98 479.35,196.22" fill="#6a6666"/>
<polygon points="524.43,165.98 479.35,196.22 479.35,195.42 524.43,165.18" fill="#b08a26"/>
<polygon points="479.35,196.22 477.96,195.34 477.96,194.54 479.35,195.42" fill="#c29b2c"/>
<polygon points="477.96,194.54 523.04,164.30 524.43,165.18 479.35,195.42" fill="#e6be3c"/>
<ellipse cx="536.75" cy="205.11" rx="1.20" ry="0.60" fill="#4b4747"/>
<rect x="535.55" y="199.31" width="2.40" height="5.80" fill="#4b4747"/>
<ellipse cx="536.75" cy="199.31" rx="1.20" ry="0.60" fill="#6a6666"/>
<ellipse cx="536.75" cy="199.31" rx="1.20" ry="0.60" fill="#c29b2c"/>
<rect x="535.55" y="197.11" width="2.40" height="2.20" fill="#c29b2c"/>
<ellipse cx="536.75" cy="197.11" rx="1.20" ry="0.60" fill="#e6be3c"/>
<ellipse cx="519.55" cy="205.62" rx="1.20" ry="0.60" fill="#4b4747"/>
<rect x="518.35" y="199.82" width="2.40" height="5.80" fill="#4b4747"/>
<ellipse cx="519.55" cy="199.82" rx="1.20" ry="0.60" fill="#6a6666"/>
<ellipse cx="519.55" cy="199.82" rx="1.20" ry="0.60" fill="#c29b2c"/>
<rect x="518.35" y="197.62" width="2.40" height="2.20" fill="#c29b2c"/>
<ellipse cx="519.55" cy="197.62" rx="1.20" ry="0.60" fill="#e6be3c"/>
<polygon points="569.99,213.39 568.05,214.69 568.05,207.49 569.99,206.19" fill="#4b4747"/>
<polygon points="568.05,214.69 551.82,204.53 551.82,197.33 568.05,207.49" fill="#5b5757"/>
<polygon points="551.82,197.33 553.75,196.03 569.99,206.19 568.05,207.49" fill="#6a6666"/>
<polygon points="569.99,206.19 568.05,207.49 568.05,206.69 569.99,205.39" fill="#b08a26"/>
<polygon points="568.05,207.49 551.82,197.33 551.82,196.53 568.05,206.69" fill="#c29b2c"/>
<polygon points="551.82,196.53 553.75,195.23 569.99,205.39 568.05,206.69" fill="#e6be3c"/>
<polygon points="577.71,208.21 569.99,213.39 569.99,206.19 577.71,201.01" fill="#4b4747"/>
<polygon points="569.99,213.39 567.67,211.94 567.67,204.74 569.99,206.19" fill="#5b5757"/>
<polygon points="567.67,204.74 575.40,199.56 577.71,201.01 569.99,206.19" fill="#6a6666"/>
<polygon points="577.71,201.01 569.99,206.19 569.99,205.39 577.71,200.21" fill="#b08a26"/>
<polygon points="569.99,206.19 567.67,204.74 567.67,203.94 569.99,205.39" fill="#c29b2c"/>
<polygon points="567.67,203.94 575.40,198.76 577.71,200.21 569.99,205.39" fill="#e6be3c"/>
<polygon points="531.77,177.77 486.69,208.01 486.69,200.81 531.77,170.57" fill="#4b4747"/>
<polygon points="486.69,208.01 485.30,207.14 485.30,199.94 486.69,200.81" fill="#5b5757"/>
<polygon points="485.30,199.94 530.38,169.70 531.77,170.57 486.69,200.81" fill="#6a6666"/>
<polygon points="531.77,170.57 486.69,200.81 486.69,200.01 531.77,169.77" fill="#b08a26"/>
<polygon points="486.69,200.81 485.30,199.94 485.30,199.14 486.69,200.01" fill="#c29b2c"/>
<polygon points="485.30,199.14 530.38,168.90 531.77,169.77 486.69,200.01" fill="#e6be3c"/>
<ellipse cx="528.06" cy="210.94" rx="1.20" ry="0.60" fill="#4b4747"/>
<rect x="526.86" y="205.14" width="2.40" height="5.80" fill="#4b4747"/>
<ellipse cx="528.06" cy="205.14" rx="1.20" ry="0.60" fill="#6a6666"/>
<ellipse cx="528.06" cy="205.14" rx="1.20" ry="0.60" fill="#c29b2c"/>
<rect x="526.86" y="202.94" width="2.40" height="2.20" fill="#c29b2c"/>
<ellipse cx="528.06" cy="202.94" rx="1.20" ry="0.60" fill="#e6be3c"/>
<polygon points="547.66,209.02 538.00,215.50 538.00,208.30 547.66,201.82" fill="#4b4747"/>
<polygon points="538.00,215.50 535.91,214.19 535.91,206.99 538.00,208.30" fill="#5b5757"/>
<polygon points="535.91,206.99 545.57,200.51 547.66,201.82 538.00,208.30" fill="#6a6666"/>
<polygon points="547.66,201.82 538.00,208.30 538.00,207.50 547.66,201.02" fill="#b08a26"/>
<polygon points="538.00,208.30 535.91,206.99 535.91,206.19 538.00,207.50" fill="#c29b2c"/>
<polygon points="535.91,206.19 545.57,199.71 547.66,201.02 538.00,207.50" fill="#e6be3c"/>
<ellipse cx="510.86" cy="211.45" rx="1.20" ry="0.60" fill="#4b4747"/>
<rect x="509.66" y="205.65" width="2.40" height="5.80" fill="#4b4747"/>
<ellipse cx="510.86" cy="205.65" rx="1.20" ry="0.60" fill="#6a6666"/>
<ellipse cx="510.86" cy="205.65" rx="1.20" ry="0.60" fill="#c29b2c"/>
<rect x="509.66" y="203.45" width="2.40" height="2.20" fill="#c29b2c"/>
<ellipse cx="510.86" cy="203.45" rx="1.20" ry="0.60" fill="#e6be3c"/>
<polygon points="539.12,182.37 494.04,212.61 494.04,205.41 539.12,175.17" fill="#4b4747"/>
<polygon points="494.04,212.61 492.64,211.74 492.64,204.54 494.04,205.41" fill="#5b5757"/>
<polygon points="492.64,204.54 537.72,174.30 539.12,175.17 494.04,205.41" fill="#6a6666"/>
<polygon points="539.12,175.17 494.04,205.41 494.04,204.61 539.12,174.37" fill="#b08a26"/>
<polygon points="494.04,205.41 492.64,204.54 492.64,203.74 494.04,204.61" fill="#c29b2c"/>
<polygon points="492.64,203.74 537.72,173.50 539.12,174.37 494.04,204.61" fill="#e6be3c"/>
<polygon points="555.53,219.38 553.60,220.68 553.60,213.48 555.53,212.18" fill="#4b4747"/>
<polygon points="553.60,220.68 541.54,213.12 541.54,205.92 553.60,213.48" fill="#5b5757"/>
<polygon points="541.54,205.92 543.48,204.63 555.53,212.18 553.60,213.48" fill="#6a6666"/>
<polygon points="555.53,212.18 553.60,213.48 553.60,212.68 555.53,211.38" fill="#b08a26"/>
<polygon points="553.60,213.48 541.54,205.92 541.54,205.12 553.60,212.68" fill="#c29b2c"/>
<polygon points="541.54,205.12 543.48,203.83 555.53,211.38 553.60,212.68" fill="#e6be3c"/>
<ellipse cx="519.36" cy="216.78" rx="1.20" ry="0.60" fill="#4b4747"/>
<rect x="518.16" y="210.98" width="2.40" height="5.80" fill="#4b4747"/>
<ellipse cx="519.36" cy="210.98" rx="1.20" ry="0.60" fill="#6a6666"/>
<ellipse cx="519.36" cy="210.98" rx="1.20" ry="0.60" fill="#c29b2c"/>
<rect x="518.16" y="208.78" width="2.40" height="2.20" fill="#c29b2c"/>
<ellipse cx="519.36" cy="208.78" rx="1.20" ry="0.60" fill="#e6be3c"/>
<ellipse cx="502.49" cy="217.07" rx="1.20" ry="0.60" fill="#4b4747"/>
<rect x="501.29" y="211.27" width="2.40" height="5.80" fill="#4b4747"/>
<ellipse cx="502.49" cy="211.27" rx="1.20" ry="0.60" fill="#6a6666"/>
<ellipse cx="502.49" cy="211.27" rx="1.20" ry="0.60" fill="#c29b2c"/>
<rect x="501.29" y="209.07" width="2.40" height="2.20" fill="#c29b2c"/>
<ellipse cx="502.49" cy="209.07" rx="1.20" ry="0.60" fill="#e6be3c"/>
<polygon points="561.49,218.09 551.83,224.57 551.83,217.37 561.49,210.89" fill="#4b4747"/>
<polygon points="551.83,224.57 549.74,223.27 549.74,216.07 551.83,217.37" fill="#5b5757"/>
<polygon points="549.74,216.07 559.40,209.59 561.49,210.89 551.83,217.37" fill="#6a6666"/>
<polygon points="561.49,210.89 551.83,217.37 551.83,216.57 561.49,210.09" fill="#b08a26"/>
<polygon points="551.83,217.37 549.74,216.07 549.74,215.27 551.83,216.57" fill="#c29b2c"/>
<polygon points="549.74,215.27 559.40,208.79 561.49,210.09 551.83,216.57" fill="#e6be3c"/>
<ellipse cx="510.99" cy="222.39" rx="1.20" ry="0.60" fill="#4b4747"/>
<rect x="509.79" y="216.59" width="2.40" height="5.80" fill="#4b4747"/>
<ellipse cx="510.99" cy="216.59" rx="1.20" ry="0.60" fill="#6a6666"/>
<ellipse cx="510.99" cy="216.59" rx="1.20" ry="0.60" fill="#c29b2c"/>
<rect x="509.79" y="214.39" width="2.40" height="2.20" fill="#c29b2c"/>
<ellipse cx="510.99" cy="214.39" rx="1.20" ry="0.60" fill="#e6be3c"/>
<polygon points="524.36,224.12 545.10,229.25 545.10,222.05 524.36,216.92" fill="#5b5757"/>
<polygon points="545.10,229.25 545.80,227.45 545.80,220.25 545.10,222.05" fill="#4b4747"/>
<polygon points="524.36,216.92 545.10,222.05 545.80,220.25 525.06,215.11" fill="#6a6666"/>
<polygon points="524.36,216.92 545.10,222.05 545.10,221.25 524.36,216.12" fill="#c29b2c"/>
<polygon points="545.10,222.05 545.80,220.25 545.80,219.45 545.10,221.25" fill="#b08a26"/>
<polygon points="524.36,216.12 545.10,221.25 545.80,219.45 525.06,214.31" fill="#e6be3c"/>
<polygon points="523.34,223.49 532.56,236.86 532.56,229.66 523.34,216.29" fill="#5b5757"/>
<polygon points="532.56,236.86 535.29,236.30 535.29,229.10 532.56,229.66" fill="#4b4747"/>
<polygon points="523.34,216.29 532.56,229.66 535.29,229.10 526.07,215.73" fill="#6a6666"/>
<polygon points="523.34,216.29 532.56,229.66 532.56,228.86 523.34,215.49" fill="#c29b2c"/>
<polygon points="532.56,229.66 535.29,229.10 535.29,228.30 532.56,228.86" fill="#b08a26"/>
<polygon points="523.34,215.49 532.56,228.86 535.29,228.30 526.07,214.93" fill="#e6be3c"/>
<polygon points="609.30,203.60 686.60,252.00 686.60,255.20 609.30,206.80" fill="#575353"/>
<polygon points="686.60,252.00 751.00,208.80 751.00,212.00 686.60,255.20" fill="#4a4646"/>
<polygon points="609.30,203.60 673.70,160.40 751.00,208.80 686.60,252.00" fill="#777373"/>
<rect x="695.18" y="183.43" width="2.0" height="5.0" fill="#4f4b4b"/>
<rect x="695.18" y="183.43" width="1.0" height="5.0" fill="#5c5858"/>
<rect x="703.69" y="188.75" width="2.0" height="5.0" fill="#4f4b4b"/>
<rect x="703.69" y="188.75" width="1.0" height="5.0" fill="#5c5858"/>
<rect x="686.62" y="189.17" width="2.0" height="5.0" fill="#4f4b4b"/>
<rect x="686.62" y="189.17" width="1.0" height="5.0" fill="#5c5858"/>
<rect x="695.12" y="194.50" width="2.0" height="5.0" fill="#4f4b4b"/>
<rect x="695.12" y="194.50" width="1.0" height="5.0" fill="#5c5858"/>
<rect x="678.25" y="194.79" width="2.0" height="5.0" fill="#4f4b4b"/>
<rect x="678.25" y="194.79" width="1.0" height="5.0" fill="#5c5858"/>
<polygon points="675.43,173.18 630.35,203.42 630.35,196.92 675.43,166.68" fill="#4d4949"/>
<polygon points="630.35,203.42 628.96,202.54 628.96,196.04 630.35,196.92" fill="#5a5656"/>
<polygon points="628.96,196.04 674.04,165.80 675.43,166.68 630.35,196.92" fill="#6f6b6b"/>
<rect x="686.75" y="200.11" width="2.0" height="5.0" fill="#4f4b4b"/>
<rect x="686.75" y="200.11" width="1.0" height="5.0" fill="#5c5858"/>
<rect x="669.55" y="200.62" width="2.0" height="5.0" fill="#4f4b4b"/>
<rect x="669.55" y="200.62" width="1.0" height="5.0" fill="#5c5858"/>
<polygon points="720.99,213.39 719.05,214.69 719.05,208.19 720.99,206.89" fill="#4d4949"/>
<polygon points="719.05,214.69 702.82,204.53 702.82,198.03 719.05,208.19" fill="#5a5656"/>
<polygon points="702.82,198.03 704.75,196.73 720.99,206.89 719.05,208.19" fill="#6f6b6b"/>
<polygon points="728.71,208.21 720.99,213.39 720.99,206.89 728.71,201.71" fill="#4d4949"/>
<polygon points="720.99,213.39 718.67,211.94 718.67,205.44 720.99,206.89" fill="#5a5656"/>
<polygon points="718.67,205.44 726.40,200.26 728.71,201.71 720.99,206.89" fill="#6f6b6b"/>
<polygon points="682.77,177.77 637.69,208.01 637.69,201.51 682.77,171.27" fill="#4d4949"/>
<polygon points="637.69,208.01 636.30,207.14 636.30,200.64 637.69,201.51" fill="#5a5656"/>
<polygon points="636.30,200.64 681.38,170.40 682.77,171.27 637.69,201.51" fill="#6f6b6b"/>
<rect x="678.06" y="205.94" width="2.0" height="5.0" fill="#4f4b4b"/>
<rect x="678.06" y="205.94" width="1.0" height="5.0" fill="#5c5858"/>
<polygon points="698.66,209.02 689.00,215.50 689.00,209.00 698.66,202.52" fill="#4d4949"/>
<polygon points="689.00,215.50 686.91,214.19 686.91,207.69 689.00,209.00" fill="#5a5656"/>
<polygon points="686.91,207.69 696.57,201.21 698.66,202.52 689.00,209.00" fill="#6f6b6b"/>
<rect x="660.86" y="206.45" width="2.0" height="5.0" fill="#4f4b4b"/>
<rect x="660.86" y="206.45" width="1.0" height="5.0" fill="#5c5858"/>
<polygon points="690.12,182.37 645.04,212.61 645.04,206.11 690.12,175.87" fill="#4d4949"/>
<polygon points="645.04,212.61 643.64,211.74 643.64,205.24 645.04,206.11" fill="#5a5656"/>
<polygon points="643.64,205.24 688.72,175.00 690.12,175.87 645.04,206.11" fill="#6f6b6b"/>
<polygon points="706.53,219.38 704.60,220.68 704.60,214.18 706.53,212.88" fill="#4d4949"/>
<polygon points="704.60,220.68 692.54,213.12 692.54,206.62 704.60,214.18" fill="#5a5656"/>
<polygon points="692.54,206.62 694.48,205.33 706.53,212.88 704.60,214.18" fill="#6f6b6b"/>
<rect x="669.36" y="211.78" width="2.0" height="5.0" fill="#4f4b4b"/>
<rect x="669.36" y="211.78" width="1.0" height="5.0" fill="#5c5858"/>
<rect x="652.49" y="212.07" width="2.0" height="5.0" fill="#4f4b4b"/>
<rect x="652.49" y="212.07" width="1.0" height="5.0" fill="#5c5858"/>
<polygon points="712.49,218.09 702.83,224.57 702.83,218.07 712.49,211.59" fill="#4d4949"/>
<polygon points="702.83,224.57 700.74,223.27 700.74,216.77 702.83,218.07" fill="#5a5656"/>
<polygon points="700.74,216.77 710.40,210.29 712.49,211.59 702.83,218.07" fill="#6f6b6b"/>
<rect x="660.99" y="217.39" width="2.0" height="5.0" fill="#4f4b4b"/>
<rect x="660.99" y="217.39" width="1.0" height="5.0" fill="#5c5858"/>
<polygon points="675.36,224.12 696.10,229.25 696.10,222.75 675.36,217.62" fill="#5a5656"/>
<polygon points="696.10,229.25 696.80,227.45 696.80,220.95 696.10,222.75" fill="#4d4949"/>
<polygon points="675.36,217.62 696.10,222.75 696.80,220.95 676.06,215.81" fill="#6f6b6b"/>
<polygon points="674.34,223.49 683.56,236.86 683.56,230.36 674.34,216.99" fill="#5a5656"/>
<polygon points="683.56,236.86 686.29,236.30 686.29,229.80 683.56,230.36" fill="#4d4949"/>
<polygon points="674.34,216.99 683.56,230.36 686.29,229.80 677.07,216.43" fill="#6f6b6b"/>
<rect x="222.9" y="200.7" width="8.4" height="8.4" fill="none" stroke="#f4f4f4" stroke-width="0.8"/>
<line x1="231.3" y1="200.7" x2="298.9" y2="208.8" stroke="#f4f4f4" stroke-width="0.8"/>
<line x1="222.9" y1="209.1" x2="251.2" y2="255" stroke="#f4f4f4" stroke-width="0.8"/>
<rect x="251.2" y="208.8" width="47.7" height="46.5" fill="#c7e2b8" stroke="#f2f2f2" stroke-width="1.1"/>
<defs><radialGradient id="hole" cx="0.5" cy="0.45" r="0.55"><stop offset="0" stop-color="#c3dab4"/><stop offset="0.7" stop-color="#9ab58c"/><stop offset="1" stop-color="#6f8a63"/></radialGradient></defs>
<ellipse cx="274.6" cy="241.8" rx="18.3" ry="10.5" fill="url(#hole)"/>
<line x1="255.3" y1="219.5" x2="255.3" y2="246" stroke="#222" stroke-width="0.7" stroke-dasharray="1.6,1.2"/>
<line x1="293.3" y1="219.5" x2="293.3" y2="246" stroke="#222" stroke-width="0.7" stroke-dasharray="1.6,1.2"/>
<line x1="259" y1="222.7" x2="289.8" y2="222.7" stroke="#111" stroke-width="1"/>
<polygon points="256.8,222.7 260.5,220.8 260.5,224.6" fill="#111"/>
<polygon points="292,222.7 288.3,220.8 288.3,224.6" fill="#111"/>
<text x="264.6" y="219.8" font-size="7.6" font-weight="bold" fill="#111"><tspan font-style="italic">D</tspan>×10</text>
<text x="279.2" y="239.4" font-size="7" font-weight="bold" font-style="italic" fill="#111">D</text>
<rect x="273.4" y="241.2" width="2.6" height="11.3" fill="#e6be3c"/>
<line x1="272.6" y1="236.5" x2="272.6" y2="245" stroke="#333" stroke-width="0.5" stroke-dasharray="1,0.8"/>
<line x1="276.9" y1="236.5" x2="276.9" y2="245" stroke="#333" stroke-width="0.5" stroke-dasharray="1,0.8"/>
<line x1="263" y1="242.9" x2="269.5" y2="242.9" stroke="#111" stroke-width="0.9"/>
<polygon points="272,242.9 269,241.3 269,244.5" fill="#111"/>
<line x1="286.3" y1="242.9" x2="280" y2="242.9" stroke="#111" stroke-width="0.9"/>
<polygon points="277.6,242.9 280.6,241.3 280.6,244.5" fill="#111"/>
<text y="158" font-size="10.6" font-weight="bold" fill="#fbfbfb"><tspan x="8.6" font-family="'Liberation Serif', 'Noto Serif CJK JP', serif" font-weight="900" stroke="#fbfbfb" stroke-width="0.35" font-size="11.6">Ⅰ</tspan><tspan x="19.6">.</tspan><tspan x="26.11" letter-spacing="0.6">PR patterning</tspan></text>
<text y="158" font-size="10.6" font-weight="bold" fill="#fbfbfb"><tspan x="162.0" font-family="'Liberation Serif', 'Noto Serif CJK JP', serif" font-weight="900" stroke="#fbfbfb" stroke-width="0.35" font-size="11.6">Ⅱ</tspan><tspan x="174.6">.</tspan><tspan x="180.31" letter-spacing="0.55">Nanoprinting</tspan></text>
<text y="158" font-size="10.6" font-weight="bold" fill="#fbfbfb"><tspan x="308.3" font-family="'Liberation Serif', 'Noto Serif CJK JP', serif" font-weight="900" stroke="#fbfbfb" stroke-width="0.35" font-size="10.6">Ⅲ</tspan><tspan x="320.1">.</tspan><tspan x="325.81" letter-spacing="0.809">PR strip</tspan></text>
<text y="158" font-size="10.6" font-weight="bold" fill="#fbfbfb"><tspan x="463.1" font-family="'Liberation Serif', 'Noto Serif CJK JP', serif" font-weight="900" stroke="#fbfbfb" stroke-width="0.35" font-size="10.6">Ⅳ</tspan><tspan x="475.6">.</tspan><tspan x="481.11" letter-spacing="0.825">Etch</tspan></text>
<text y="158" font-size="10.6" font-weight="bold" fill="#fbfbfb"><tspan x="608.6" font-family="'Liberation Sans', 'Noto Sans CJK SC', sans-serif" font-weight="900" stroke="#fbfbfb" stroke-width="0.35" font-size="10.6">Ⅴ</tspan><tspan x="620.7">.</tspan><tspan x="625.91" letter-spacing="0.661">Metal strip</tspan></text>
<rect x="3" y="269" width="753" height="122" fill="#c9c9c9"/>
<rect x="5.5" y="271.5" width="748" height="117" fill="#bfbfbf"/>
<polygon points="3.50,333.60 77.90,376.60 77.90,389.40 3.50,346.40" fill="#575353"/>
<polygon points="77.90,376.60 153.50,332.40 153.50,345.20 77.90,389.40" fill="#4a4646"/>
<polygon points="3.50,333.60 79.10,289.40 153.50,332.40 77.90,376.60" fill="#777373"/>
<polygon points="79.10,305.84 34.49,331.91 34.49,329.51 79.10,303.44" fill="#b08a26"/>
<polygon points="34.49,331.91 32.56,330.80 32.56,328.40 34.49,329.51" fill="#c29b2c"/>
<polygon points="32.56,328.40 77.16,302.32 79.10,303.44 34.49,329.51" fill="#e6be3c"/>
<polygon points="99.56,317.66 54.95,343.74 54.95,341.34 99.56,315.26" fill="#b08a26"/>
<polygon points="54.95,343.74 53.02,342.62 53.02,340.22 54.95,341.34" fill="#c29b2c"/>
<polygon points="53.02,340.22 97.62,314.14 99.56,315.26 54.95,341.34" fill="#e6be3c"/>
<polygon points="119.27,329.06 74.67,355.13 74.67,352.73 119.27,326.66" fill="#b08a26"/>
<polygon points="74.67,355.13 72.74,354.02 72.74,351.62 74.67,352.73" fill="#c29b2c"/>
<polygon points="72.74,351.62 117.34,325.54 119.27,326.66 74.67,352.73" fill="#e6be3c"/>
<polygon points="179.20,333.60 253.60,376.60 253.60,389.40 179.20,346.40" fill="#575353"/>
<polygon points="253.60,376.60 329.20,332.40 329.20,345.20 253.60,389.40" fill="#4a4646"/>
<polygon points="179.20,333.60 254.80,289.40 329.20,332.40 253.60,376.60" fill="#777373"/>
<polygon points="253.09,304.85 208.48,330.92 208.48,328.52 253.09,302.45" fill="#b08a26"/>
<polygon points="208.48,330.92 206.55,329.81 206.55,327.41 208.48,328.52" fill="#c29b2c"/>
<polygon points="206.55,327.41 251.15,301.33 253.09,302.45 208.48,328.52" fill="#e6be3c"/>
<polygon points="260.75,309.28 216.15,335.35 216.15,332.95 260.75,306.88" fill="#b08a26"/>
<polygon points="216.15,335.35 214.21,334.24 214.21,331.84 216.15,332.95" fill="#c29b2c"/>
<polygon points="214.21,331.84 258.82,305.76 260.75,306.88 216.15,332.95" fill="#e6be3c"/>
<polygon points="273.77,316.80 229.17,342.88 229.17,340.48 273.77,314.40" fill="#b08a26"/>
<polygon points="229.17,342.88 227.23,341.76 227.23,339.36 229.17,340.48" fill="#c29b2c"/>
<polygon points="227.23,339.36 271.84,313.28 273.77,314.40 229.17,340.48" fill="#e6be3c"/>
<polygon points="280.84,320.89 236.23,346.96 236.23,344.56 280.84,318.49" fill="#b08a26"/>
<polygon points="236.23,346.96 234.30,345.85 234.30,343.45 236.23,344.56" fill="#c29b2c"/>
<polygon points="234.30,343.45 278.90,317.37 280.84,318.49 236.23,344.56" fill="#e6be3c"/>
<polygon points="294.01,328.50 249.40,354.57 249.40,352.17 294.01,326.10" fill="#b08a26"/>
<polygon points="249.40,354.57 247.47,353.46 247.47,351.06 249.40,352.17" fill="#c29b2c"/>
<polygon points="247.47,351.06 292.07,324.98 294.01,326.10 249.40,352.17" fill="#e6be3c"/>
<polygon points="300.93,332.50 256.32,358.57 256.32,356.17 300.93,330.10" fill="#b08a26"/>
<polygon points="256.32,358.57 254.39,357.46 254.39,355.06 256.32,356.17" fill="#c29b2c"/>
<polygon points="254.39,355.06 298.99,328.98 300.93,330.10 256.32,356.17" fill="#e6be3c"/>
<polygon points="352.00,333.60 426.40,376.60 426.40,389.40 352.00,346.40" fill="#575353"/>
<polygon points="426.40,376.60 502.00,332.40 502.00,345.20 426.40,389.40" fill="#4a4646"/>
<polygon points="352.00,333.60 427.60,289.40 502.00,332.40 426.40,376.60" fill="#777373"/>
<polygon points="424.62,304.12 380.02,330.19 380.02,327.79 424.62,301.72" fill="#b08a26"/>
<polygon points="380.02,330.19 378.08,329.08 378.08,326.68 380.02,327.79" fill="#c29b2c"/>
<polygon points="378.08,326.68 422.69,300.60 424.62,301.72 380.02,327.79" fill="#e6be3c"/>
<polygon points="431.24,307.94 386.64,334.02 386.64,331.62 431.24,305.54" fill="#b08a26"/>
<polygon points="386.64,334.02 384.71,332.90 384.71,330.50 386.64,331.62" fill="#c29b2c"/>
<polygon points="384.71,330.50 429.31,304.42 431.24,305.54 386.64,331.62" fill="#e6be3c"/>
<polygon points="437.87,311.77 393.26,337.85 393.26,335.45 437.87,309.37" fill="#b08a26"/>
<polygon points="393.26,337.85 391.33,336.73 391.33,334.33 393.26,335.45" fill="#c29b2c"/>
<polygon points="391.33,334.33 435.93,308.25 437.87,309.37 393.26,335.45" fill="#e6be3c"/>
<polygon points="444.49,315.60 399.88,341.67 399.88,339.27 444.49,313.20" fill="#b08a26"/>
<polygon points="399.88,341.67 397.95,340.56 397.95,338.16 399.88,339.27" fill="#c29b2c"/>
<polygon points="397.95,338.16 442.55,312.08 444.49,313.20 399.88,339.27" fill="#e6be3c"/>
<polygon points="451.11,319.42 406.51,345.50 406.51,343.10 451.11,317.02" fill="#b08a26"/>
<polygon points="406.51,345.50 404.57,344.38 404.57,341.98 406.51,343.10" fill="#c29b2c"/>
<polygon points="404.57,341.98 449.17,315.91 451.11,317.02 406.51,343.10" fill="#e6be3c"/>
<polygon points="457.73,323.25 413.13,349.33 413.13,346.93 457.73,320.85" fill="#b08a26"/>
<polygon points="413.13,349.33 411.19,348.21 411.19,345.81 413.13,346.93" fill="#c29b2c"/>
<polygon points="411.19,345.81 455.80,319.73 457.73,320.85 413.13,346.93" fill="#e6be3c"/>
<polygon points="464.35,327.08 419.75,353.16 419.75,350.76 464.35,324.68" fill="#b08a26"/>
<polygon points="419.75,353.16 417.81,352.04 417.81,349.64 419.75,350.76" fill="#c29b2c"/>
<polygon points="417.81,349.64 462.42,323.56 464.35,324.68 419.75,350.76" fill="#e6be3c"/>
<polygon points="470.97,330.90 426.37,356.98 426.37,354.58 470.97,328.50" fill="#b08a26"/>
<polygon points="426.37,356.98 424.44,355.86 424.44,353.46 426.37,354.58" fill="#c29b2c"/>
<polygon points="424.44,353.46 469.04,327.39 470.97,328.50 426.37,354.58" fill="#e6be3c"/>
<polygon points="477.60,334.73 432.99,360.81 432.99,358.41 477.60,332.33" fill="#b08a26"/>
<polygon points="432.99,360.81 431.06,359.69 431.06,357.29 432.99,358.41" fill="#c29b2c"/>
<polygon points="431.06,357.29 475.66,331.21 477.60,332.33 432.99,358.41" fill="#e6be3c"/>
<line x1="18" y1="325" x2="29" y2="331.5" stroke="#fff" stroke-width="0.9"/>
<line x1="63" y1="352.5" x2="52.5" y2="346.5" stroke="#fff" stroke-width="0.9"/>
<polygon points="31.2,332.9 26.4,333.2 28.6,328.9" fill="#fff"/>
<polygon points="50.3,345.1 55.1,344.8 52.9,349.1" fill="#fff"/>
<line x1="23" y1="338.5" x2="33" y2="332.6" stroke="#fff" stroke-width="0.8" stroke-dasharray="2,1.5"/>
<line x1="42.5" y1="350" x2="53" y2="344" stroke="#fff" stroke-width="0.8" stroke-dasharray="2,1.5"/>
<line x1="364" y1="323" x2="373.5" y2="328.5" stroke="#fff" stroke-width="0.9"/>
<line x1="395.5" y1="341.5" x2="386.5" y2="336.5" stroke="#fff" stroke-width="0.9"/>
<polygon points="375.5,329.7 371.7,329.6 373.5,326.6" fill="#fff"/>
<polygon points="384.5,335.3 388.3,335.4 386.5,338.4" fill="#fff"/>
<line x1="367" y1="336.5" x2="377" y2="330.6" stroke="#fff" stroke-width="0.8" stroke-dasharray="2,1.5"/>
<line x1="375" y1="340" x2="385" y2="334" stroke="#fff" stroke-width="0.8" stroke-dasharray="2,1.5"/>
<polygon points="605.20,343.00 679.60,385.60 679.60,389.30 605.20,346.70" fill="#575353"/>
<polygon points="679.60,385.60 755.40,341.30 755.40,345.00 679.60,389.30" fill="#4a4646"/>
<polygon points="605.20,343.00 681.00,298.70 755.40,341.30 679.60,385.60" fill="#777373"/>
<polygon points="680.40,312.39 633.03,340.08 633.03,332.78 680.40,305.09" fill="#4e4a4a"/>
<polygon points="633.03,340.08 631.84,339.40 631.84,332.10 633.03,332.78" fill="#5a5656"/>
<polygon points="631.84,332.10 679.21,304.41 680.40,305.09 633.03,332.78" fill="#6d6969"/>
<polygon points="687.17,316.27 639.80,343.96 639.80,336.66 687.17,308.97" fill="#4e4a4a"/>
<polygon points="639.80,343.96 638.61,343.27 638.61,335.97 639.80,336.66" fill="#5a5656"/>
<polygon points="638.61,335.97 685.98,308.29 687.17,308.97 639.80,336.66" fill="#6d6969"/>
<polygon points="693.94,320.14 646.57,347.83 646.57,340.53 693.94,312.84" fill="#4e4a4a"/>
<polygon points="646.57,347.83 645.38,347.15 645.38,339.85 646.57,340.53" fill="#5a5656"/>
<polygon points="645.38,339.85 692.75,312.16 693.94,312.84 646.57,340.53" fill="#6d6969"/>
<polygon points="700.72,324.02 653.34,351.71 653.34,344.41 700.72,316.72" fill="#4e4a4a"/>
<polygon points="653.34,351.71 652.15,351.03 652.15,343.73 653.34,344.41" fill="#5a5656"/>
<polygon points="652.15,343.73 699.52,316.04 700.72,316.72 653.34,344.41" fill="#6d6969"/>
<polygon points="707.49,327.90 660.11,355.58 660.11,348.28 707.49,320.60" fill="#4e4a4a"/>
<polygon points="660.11,355.58 658.92,354.90 658.92,347.60 660.11,348.28" fill="#5a5656"/>
<polygon points="658.92,347.60 706.30,319.92 707.49,320.60 660.11,348.28" fill="#6d6969"/>
<polygon points="714.26,331.77 666.88,359.46 666.88,352.16 714.26,324.47" fill="#4e4a4a"/>
<polygon points="666.88,359.46 665.69,358.78 665.69,351.48 666.88,352.16" fill="#5a5656"/>
<polygon points="665.69,351.48 713.07,323.79 714.26,324.47 666.88,352.16" fill="#6d6969"/>
<polygon points="721.03,335.65 673.65,363.34 673.65,356.04 721.03,328.35" fill="#4e4a4a"/>
<polygon points="673.65,363.34 672.46,362.66 672.46,355.36 673.65,356.04" fill="#5a5656"/>
<polygon points="672.46,355.36 719.84,327.67 721.03,328.35 673.65,356.04" fill="#6d6969"/>
<polygon points="727.80,339.53 680.42,367.21 680.42,359.91 727.80,332.23" fill="#4e4a4a"/>
<polygon points="680.42,367.21 679.23,366.53 679.23,359.23 680.42,359.91" fill="#5a5656"/>
<polygon points="679.23,359.23 726.61,331.55 727.80,332.23 680.42,359.91" fill="#6d6969"/>
<polygon points="734.57,343.40 687.19,371.09 687.19,363.79 734.57,336.10" fill="#4e4a4a"/>
<polygon points="687.19,371.09 686.00,370.41 686.00,363.11 687.19,363.79" fill="#5a5656"/>
<polygon points="686.00,363.11 733.38,335.42 734.57,336.10 687.19,363.79" fill="#6d6969"/>
<text y="281.7" font-size="10.6" font-weight="bold" fill="#fbfbfb"><tspan x="9.36">1</tspan><tspan x="16.66" y="277.6" font-size="6.8">st</tspan><tspan x="25.81" y="281.7" letter-spacing="0.516">nanoprint</tspan></text>
<text y="281.7" font-size="10.6" font-weight="bold" fill="#fbfbfb"><tspan x="182.68">2</tspan><tspan x="189.46" y="277.6" font-size="6.8">nd</tspan><tspan x="202.11" y="281.7" letter-spacing="0.554">nanoprint</tspan></text>
<text y="281.7" font-size="10.6" font-weight="bold" fill="#fbfbfb"><tspan x="355.09">3</tspan><tspan x="361.66" y="277.6" font-size="6.8">rd</tspan><tspan x="372.71" y="281.7" letter-spacing="0.554">nanoprint</tspan></text>
<text x="594.81" y="281.7" font-size="10.6" font-weight="bold" fill="#fbfbfb" letter-spacing="0.602">Patterns of reduced spacing</text>
<text x="500.61" y="321.7" font-size="10.6" font-weight="bold" fill="#fbfbfb" letter-spacing="0.563">Multi-nanoprinting</text>
<rect x="537.0" y="337.6" width="4.9" height="4.3" fill="#fbfbfb"/>
<rect x="546.1" y="337.6" width="4.9" height="4.3" fill="#fbfbfb"/>
<rect x="555.4" y="337.6" width="4.9" height="4.3" fill="#fbfbfb"/>
<rect x="564.9" y="337.6" width="2.5" height="4.3" fill="#fbfbfb"/>
<clipPath id="cTem"><rect x="578.4" y="9.9" width="71.0" height="116.89999999999999"/></clipPath>
<g clip-path="url(#cTem)"><g filter="url(#grainL)">
<rect x="578.4" y="9.9" width="71.0" height="116.89999999999999" fill="url(#temBg)"/>
<path d="M577,114.6 L577,111.3 C583,110.8 588,107.5 590.8,102 C593.5,96 595,88 595.8,78 C596.4,70 597.3,62 597.8,56 C599,50.5 605,48.6 612.8,48.6 C620.5,48.6 626.5,50.5 628,56 C628.6,62 629.4,70 630.2,78 C631,88 632.4,96 635,102 C637.8,107.5 643,110.8 651,111.3 L651,114.6 Z" fill="#848484"/>
<path d="M577,111.3 C583,110.8 588,107.5 590.8,102 C593.5,96 595,88 595.8,78 C596.4,70 597.3,62 597.8,55 M628,55 C628.6,62 629.4,70 630.2,78 C631,88 632.4,96 635,102 C637.8,107.5 643,110.8 651,111.3" fill="none" stroke="#1c1c1c" stroke-width="2.8" filter="url(#soft)"/>
<ellipse cx="582" cy="111" rx="5.5" ry="2.1" fill="#1c1c1c" filter="url(#soft)"/>
<ellipse cx="645" cy="111" rx="5.5" ry="2.1" fill="#1c1c1c" filter="url(#soft)"/>
<path d="M597,60 C596.5,50 597.5,42 600,37 C602,33 606,30.5 611,29.6 C615,28.8 620,29.2 624,31.5 C628,34 630.5,39 630.6,45 C630.6,50 629.5,55 628.6,60 C627.5,53 622,49.2 613,49.2 C604,49.2 598.5,53 597,60 Z" fill="#1c1c1c" filter="url(#soft2)"/>
<ellipse cx="617" cy="32" rx="6" ry="2.6" fill="#4a4a4a" filter="url(#soft2)"/>
<ellipse cx="604" cy="35" rx="3" ry="2" fill="#3a3a3a" filter="url(#soft2)"/>
<rect x="578.4" y="114.6" width="71.0" height="1.2" fill="#d8d8d8"/>
<rect x="578.4" y="116" width="71.0" height="10.799999999999997" fill="#3a3a3a"/>
</g>
<line x1="600.6" y1="51" x2="600.6" y2="71" stroke="#fff" stroke-width="1.1" stroke-dasharray="2.2,1.6"/>
<line x1="625.3" y1="51" x2="625.3" y2="71" stroke="#fff" stroke-width="1.1" stroke-dasharray="2.2,1.6"/>
<line x1="604" y1="60.2" x2="622" y2="60.2" stroke="#fff" stroke-width="1.1"/>
<polygon points="601.6,60.2 605,58.4 605,62" fill="#fff"/>
<polygon points="624.4,60.2 621,58.4 621,62" fill="#fff"/>
<line x1="580.8" y1="64.9" x2="596.3" y2="70.7" stroke="#fff" stroke-width="1.2"/>
<line x1="577.9" y1="86.3" x2="606.4" y2="92.5" stroke="#fff" stroke-width="1.2"/>
</g>
<text x="596.4" y="42.7" font-size="11" font-weight="bold" fill="#fff" letter-spacing="0.5" word-spacing="0.9">25 nm</text>
<clipPath id="cEds"><rect x="662" y="10.75" width="71" height="116.25"/></clipPath>
<g clip-path="url(#cEds)">
<rect x="662" y="10.75" width="71" height="116.25" fill="#16160a" filter="url(#speck)"/>
<path d="M660,114 C672,112 678,106 682,96 C686,84 687,66 689,56 C691,49 694,46.3 698.5,46.3 C703,46.3 707,49 709,56 C711,66 713,84 717,96 C721,106 726,112 735,114 Z" fill="#c2b957" filter="url(#bellF)"/>
<rect x="662" y="111.5" width="71" height="3.5" fill="#a39b45" filter="url(#bellF)"/>
<rect x="662" y="115.5" width="71" height="11.5" fill="#111108"/>
</g>
<text x="667.6" y="26.4" font-size="11.2" font-weight="bold" fill="#eee29a">Ir</text>
<g filter="url(#grainL)"><rect x="21.9" y="402.2" width="202.1" height="142.09999999999997" fill="#4b4b4b"/></g>
<rect x="35.70" y="402.2" width="2.0" height="142.1" fill="#bdbdbd"/>
<rect x="55.37" y="402.2" width="2.0" height="142.1" fill="#bdbdbd"/>
<rect x="75.04" y="402.2" width="2.0" height="142.1" fill="#bdbdbd"/>
<rect x="94.71" y="402.2" width="2.0" height="142.1" fill="#bdbdbd"/>
<rect x="114.38" y="479.0" width="2.0" height="65.3" fill="#bdbdbd"/>
<rect x="134.05" y="479.0" width="2.0" height="65.3" fill="#bdbdbd"/>
<rect x="153.72" y="479.0" width="2.0" height="65.3" fill="#bdbdbd"/>
<rect x="173.39" y="479.0" width="2.0" height="65.3" fill="#bdbdbd"/>
<rect x="193.06" y="479.0" width="2.0" height="65.3" fill="#bdbdbd"/>
<rect x="212.73" y="479.0" width="2.0" height="65.3" fill="#bdbdbd"/>
<rect x="115.3" y="402.2" width="108.7" height="76.2" fill="#474747"/>
<rect x="129.3" y="402.2" width="3.6" height="76.2" fill="#a3a3a3"/>
<rect x="130.5" y="402.2" width="1.2" height="76.2" fill="#b3b3b3"/>
<rect x="167.2" y="402.2" width="3.6" height="76.2" fill="#a3a3a3"/>
<rect x="168.4" y="402.2" width="1.2" height="76.2" fill="#b3b3b3"/>
<rect x="204.7" y="402.2" width="3.6" height="76.2" fill="#a3a3a3"/>
<rect x="205.9" y="402.2" width="1.2" height="76.2" fill="#b3b3b3"/>
<path d="M115.3,402.2 V478.4 H224" fill="none" stroke="#f0f0f0" stroke-width="1.1"/>
<text x="181.7" y="466" font-size="9.4" fill="#fff" font-weight="bold">500 nm</text>
<rect x="190" y="470.6" width="23.4" height="2" fill="#fff"/>
<text x="185.6" y="529.4" font-size="8.6" fill="#fff" font-weight="bold">1 μm</text>
<rect x="176.7" y="533.2" width="36" height="2" fill="#fff"/>
<clipPath id="gL"><rect x="266.6" y="402.9" width="101.39999999999998" height="143.20000000000005"/></clipPath>
<g clip-path="url(#gL)"><g filter="url(#grain2)">
<rect x="266.6" y="402.9" width="101.39999999999998" height="143.20000000000005" fill="#6e6e6e"/>
<path d="M266.6,402.9 H368.0 V432 C360,413 345,406 317,406 C290,406 276,413 266.6,432 Z" fill="#505050"/>
</g>
<g filter="url(#grainL)"><path d="M310.6,420.3 L333.0,420.3 L335.4,493 C336,505 338,515 352,520 C358,522 364,523 368.0,523.5 L368.0,546.1 L266.6,546.1 L266.6,523.5 C272,523 280,522 290,520 C303,515 308.5,505 309.3,493 Z" fill="#a0a0a0"/></g>
<rect x="266.6" y="523.6" width="101.39999999999998" height="22.5" fill="#a5a5a5" opacity="0.6"/>
</g>
<line x1="308.7" y1="438.8" x2="308.7" y2="459" stroke="#fff" stroke-width="1" stroke-dasharray="2,1.5"/>
<line x1="334" y1="438.8" x2="334" y2="459" stroke="#fff" stroke-width="1" stroke-dasharray="2,1.5"/>
<line x1="312" y1="449.6" x2="331" y2="449.6" stroke="#fff" stroke-width="1.2"/>
<polygon points="309.6,449.6 313,447.8 313,451.4" fill="#fff"/>
<polygon points="333.2,449.6 329.8,447.8 329.8,451.4" fill="#fff"/>
<text x="310.3" y="467.3" font-size="9.5" fill="#fff" font-weight="bold">50 nm</text>
<text x="316.4" y="498.5" font-size="9" fill="#fff" font-weight="bold">Fin</text>
<clipPath id="gR1"><rect x="375.9" y="403.2" width="127.10000000000002" height="68.30000000000001"/></clipPath>
<g clip-path="url(#gR1)"><g filter="url(#grainL)">
<rect x="375.9" y="403.2" width="127.10000000000002" height="68.30000000000001" fill="#d3d3d3"/>
<rect x="375.9" y="448.6" width="127.10000000000002" height="22.899999999999977" fill="#cbcbcb"/>
<path d="M375.9,425.6 C420,424.8 470,425.2 503.0,426.2 L503.0,443.5 L375.9,443.5 Z" fill="#585858"/>
<rect x="375.9" y="442.5" width="127.10000000000002" height="6.1" fill="#8e8e8e"/>
<path d="M396.9,440 L410.9,436.5 L410.9,442.6 L396.9,442.6 Z" fill="#6e6e6e"/>
<path d="M377.9,443 C379.4,438 379.9,430.4 387.9,430.4 C395.9,430.4 396.4,438 397.9,443 Z" fill="#8c8c8c" stroke="#a4a4a4" stroke-width="0.8"/>
<rect x="386.7" y="434.4" width="2.4" height="14.2" fill="#cdcdcd"/>
<path d="M443.7,440 L457.7,436.5 L457.7,442.6 L443.7,442.6 Z" fill="#6e6e6e"/>
<path d="M424.7,443 C426.2,438 426.7,430.4 434.7,430.4 C442.7,430.4 443.2,438 444.7,443 Z" fill="#8c8c8c" stroke="#a4a4a4" stroke-width="0.8"/>
<rect x="433.5" y="434.4" width="2.4" height="14.2" fill="#cdcdcd"/>
<path d="M490.5,440 L504.5,436.5 L504.5,442.6 L490.5,442.6 Z" fill="#6e6e6e"/>
<path d="M471.5,443 C473.0,438 473.5,430.4 481.5,430.4 C489.5,430.4 490.0,438 491.5,443 Z" fill="#8c8c8c" stroke="#a4a4a4" stroke-width="0.8"/>
<rect x="480.3" y="434.4" width="2.4" height="14.2" fill="#cdcdcd"/>
</g></g>
<text x="463.8" y="461" font-size="8.6" fill="#fff" font-weight="bold">500 nm</text>
<rect x="463" y="465.3" width="30.9" height="2.2" fill="#fff"/>
<clipPath id="gR2"><rect x="375.9" y="476.4" width="127.10000000000002" height="67.10000000000002"/></clipPath>
<g clip-path="url(#gR2)"><g filter="url(#grainL)">
<rect x="375.9" y="476.4" width="127.10000000000002" height="67.10000000000002" fill="#dcdcdc"/>
<rect x="375.9" y="517" width="127.10000000000002" height="26.5" fill="#cfcfcf"/>
<path d="M375.9,510.8 C420,510.2 470,510.4 503.0,508.5 L503.0,517 L375.9,517 Z" fill="#6a6a6a"/>
<rect x="383.6" y="512.5" width="2" height="4.6" fill="#c8c8c8"/>
<rect x="397.3" y="512.5" width="2" height="4.6" fill="#c8c8c8"/>
<rect x="411.0" y="512.5" width="2" height="4.6" fill="#c8c8c8"/>
<rect x="424.70000000000005" y="512.5" width="2" height="4.6" fill="#c8c8c8"/>
<rect x="438.40000000000003" y="512.5" width="2" height="4.6" fill="#c8c8c8"/>
<rect x="452.1" y="512.5" width="2" height="4.6" fill="#c8c8c8"/>
<rect x="465.8" y="512.5" width="2" height="4.6" fill="#c8c8c8"/>
<rect x="479.5" y="512.5" width="2" height="4.6" fill="#c8c8c8"/>
<rect x="493.20000000000005" y="512.5" width="2" height="4.6" fill="#c8c8c8"/>
<ellipse cx="393" cy="527" rx="5" ry="8.5" fill="#a9a9a9" filter="url(#soft)"/>
<path d="M382,517 C387,528 390,536 392,544" stroke="#8a8a8a" stroke-width="0.8" fill="none"/>
<path d="M413,517 C410,528 407,536 406,544" stroke="#8a8a8a" stroke-width="0.8" fill="none"/>
<path d="M495,517 C490,528 484,536 481,544" stroke="#7a7a7a" stroke-width="1" fill="none"/>
<path d="M447,517 C455,522 462,530 466,544" stroke="#bdbdbd" stroke-width="0.8" fill="none"/>
</g></g>
<text x="470" y="532" font-size="8.6" fill="#fff" font-weight="bold">2 μm</text>
<rect x="460" y="536" width="37.7" height="2" fill="#fff"/>
<rect x="585.0" y="407.0" width="149.79999999999995" height="120.5" fill="none" stroke="#555" stroke-width="1"/>
<line x1="582.0" y1="527.50" x2="585.0" y2="527.50" stroke="#555" stroke-width="0.9"/>
<text x="581.4" y="531.10" font-size="10" fill="#222" text-anchor="end">0</text>
<line x1="583.2" y1="515.45" x2="585.0" y2="515.45" stroke="#555" stroke-width="0.9"/>
<line x1="582.0" y1="503.40" x2="585.0" y2="503.40" stroke="#555" stroke-width="0.9"/>
<text x="581.4" y="507.00" font-size="10" fill="#222" text-anchor="end">50</text>
<line x1="583.2" y1="491.35" x2="585.0" y2="491.35" stroke="#555" stroke-width="0.9"/>
<line x1="582.0" y1="479.30" x2="585.0" y2="479.30" stroke="#555" stroke-width="0.9"/>
<text x="581.4" y="482.90" font-size="10" fill="#222" text-anchor="end">100</text>
<line x1="583.2" y1="467.25" x2="585.0" y2="467.25" stroke="#555" stroke-width="0.9"/>
<line x1="582.0" y1="455.20" x2="585.0" y2="455.20" stroke="#555" stroke-width="0.9"/>
<text x="581.4" y="458.80" font-size="10" fill="#222" text-anchor="end">150</text>
<line x1="583.2" y1="443.15" x2="585.0" y2="443.15" stroke="#555" stroke-width="0.9"/>
<line x1="582.0" y1="431.10" x2="585.0" y2="431.10" stroke="#555" stroke-width="0.9"/>
<text x="581.4" y="434.70" font-size="10" fill="#222" text-anchor="end">200</text>
<line x1="583.2" y1="419.05" x2="585.0" y2="419.05" stroke="#555" stroke-width="0.9"/>
<line x1="582.0" y1="407.00" x2="585.0" y2="407.00" stroke="#555" stroke-width="0.9"/>
<text x="581.4" y="410.60" font-size="10" fill="#222" text-anchor="end">250</text>
<line x1="603.7" y1="527.5" x2="603.7" y2="529.7" stroke="#555" stroke-width="0.9"/>
<line x1="641.1" y1="527.5" x2="641.1" y2="529.7" stroke="#555" stroke-width="0.9"/>
<line x1="678.7" y1="527.5" x2="678.7" y2="529.7" stroke="#555" stroke-width="0.9"/>
<line x1="716.1" y1="527.5" x2="716.1" y2="529.7" stroke="#555" stroke-width="0.9"/>
<line x1="586.0" y1="512.6" x2="734.3" y2="512.6" stroke="#3f82cf" stroke-width="2" stroke-dasharray="6.3,3.6"/>
<rect x="602.5" y="420.59999999999997" width="2.2" height="2.2" fill="#111"/>
<rect x="640.0" y="488.29999999999995" width="2.2" height="2.2" fill="#111"/>
<rect x="677.6" y="498.9" width="2.2" height="2.2" fill="#111"/>
<rect x="715.0" y="508.59999999999997" width="2.2" height="2.2" fill="#111"/>
<text x="595.6" y="418" font-size="10" fill="#222">I line</text>
<text x="632.4" y="485.9" font-size="10.6" fill="#222">KrF</text>
<text x="670.2" y="497.5" font-size="10.5" fill="#222">ArF</text>
<text x="707.6" y="506.1" font-size="10.5" fill="#222">ArFi</text>
<text x="588.8" y="496.2" font-size="9.2" fill="#4b8bd0">Faraday</text>
<text x="588.8" y="506.2" font-size="9.2" fill="#4b8bd0">Lithography</text>
<text x="661" y="547.8" font-size="12.7" fill="#222" text-anchor="middle">Light source</text>
<text transform="translate(558.4,468.2) rotate(-90)" font-size="13" fill="#222" text-anchor="middle">Min. feature size (nm)</text>
<text x="8.12" y="14.7" font-size="11.4" font-weight="bold" fill="#000" text-anchor="start"  >a</text>
<text x="282.26" y="14.7" font-size="11.4" font-weight="bold" fill="#000" text-anchor="start"  >b</text>
<text x="557.3" y="16.6" font-size="11.4" font-weight="bold" fill="#000" text-anchor="start"  >c</text>
<text x="7.44" y="136.4" font-size="11.4" font-weight="bold" fill="#000" text-anchor="start"  >d</text>
<text x="6.8" y="264.8" font-size="11.4" font-weight="bold" fill="#000" text-anchor="start"  >e</text>
<text x="7.03" y="414.7" font-size="11.4" font-weight="bold" fill="#000" text-anchor="start"  >f</text>
<text x="246.54" y="411.7" font-size="11.4" font-weight="bold" fill="#000" text-anchor="start"  >g</text>
<text x="528.46" y="414.7" font-size="11.4" font-weight="bold" fill="#000" text-anchor="start"  >h</text>
</svg>
</body></html>
